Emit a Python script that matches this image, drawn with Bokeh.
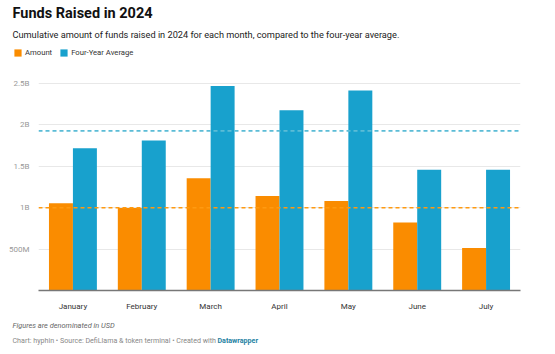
from bokeh.plotting import figure
from bokeh.layouts import column
from bokeh.models import (ColumnDataSource, FactorRange, Range1d, FixedTicker, Span,
                          Label, Legend, LegendItem)
from bokeh.transform import dodge
from bokeh.embed import file_html
from bokeh.resources import INLINE

# ---- data (billions USD) ----
months = ["January", "February", "March", "April", "May", "June", "July"]
amount = [1.054, 0.995, 1.354, 1.142, 1.082, 0.821, 0.513]
four_year_avg = [1.719, 1.811, 2.468, 2.175, 2.416, 1.458, 1.458]
series_names = ["Amount", "Four-Year Average"]
avg_lines = [1.0, 1.927]
y_ticks = [0.5, 1.0, 1.5, 2.0, 2.5]
y_tick_labels = ["500M", "1B", "1.5B", "2B", "2.5B"]

ORANGE = "#fa8c00"
BLUE = "#18a1cd"
FONT = "Roboto"
W = 555


def blank(h):
    f = figure(width=W, height=h, x_range=Range1d(0, W), y_range=Range1d(h, 0),
               output_backend="svg", toolbar_location=None, min_border=0,
               frame_align=False)
    f.axis.visible = False
    f.grid.grid_line_color = None
    f.outline_line_color = None
    return f


def lab(f, text, x, y, size, color, style="normal"):
    f.add_layout(Label(x=x, y=y, text=text, text_font=FONT, text_font_size=size,
                       text_color=color, text_font_style=style,
                       text_baseline="middle"))


# ---- header ----
head = blank(75)
lab(head, "Funds Raised in 2024", 12, 13, "14.5px", "#111111", "bold")
lab(head, "Cumulative amount of funds raised in 2024 for each month, compared to the four-year average.",
    12, 34, "9.2px", "#222222")
# legend swatches (zero-size glyphs, only used for the legend)
d1 = head.vbar(x=[0], top=[0], bottom=[0], width=0, fill_color=ORANGE, line_color=None)
d2 = head.vbar(x=[0], top=[0], bottom=[0], width=0, fill_color=BLUE, line_color=None)
legend = Legend(items=[LegendItem(label=series_names[0], renderers=[d1]),
                       LegendItem(label=series_names[1], renderers=[d2])],
                orientation="horizontal", location=(13, 18),
                glyph_width=9, glyph_height=9, label_text_font=FONT,
                label_text_font_size="7.7px", label_text_color="#333333",
                label_standoff=3, spacing=7, padding=0, margin=0,
                border_line_color=None, background_fill_alpha=0,
                label_height=9)
head.add_layout(legend, "center")

# ---- main chart ----
src = ColumnDataSource(dict(month=months, amount=amount, avg=four_year_avg))
p = figure(width=W, height=238, x_range=FactorRange(*months, range_padding=0),
           y_range=Range1d(0, 2.596), output_backend="svg", toolbar_location=None,
           min_border_left=38, min_border_right=35, min_border_top=0,
           min_border_bottom=22, frame_align=False)
p.outline_line_color = None

bw = 0.348
p.vbar(x=dodge("month", -bw / 2, range=p.x_range), top="amount", width=bw,
       source=src, fill_color=ORANGE, line_color=None)
p.vbar(x=dodge("month", bw / 2, range=p.x_range), top="avg", width=bw,
       source=src, fill_color=BLUE, line_color=None)

p.add_layout(Span(location=avg_lines[0], dimension="width",
                  line_color="#ff9a10", line_width=1.6, line_dash="4 3"))
p.add_layout(Span(location=avg_lines[1], dimension="width",
                  line_color="#5bbcd6", line_width=1.6, line_dash="4 3"))

p.xgrid.grid_line_color = None
p.ygrid.grid_line_color = "#e8e8e8"
p.ygrid.ticker = FixedTicker(ticks=y_ticks)
p.yaxis.ticker = FixedTicker(ticks=y_ticks)
p.yaxis.major_label_overrides = {t: l for t, l in zip(y_ticks, y_tick_labels)}
p.yaxis.axis_line_color = None
p.yaxis.major_tick_line_color = None
p.yaxis.minor_tick_line_color = None
p.yaxis.major_label_text_color = "#999999"
p.yaxis.major_label_text_font = FONT
p.yaxis.major_label_text_font_size = "8px"
p.yaxis.major_label_standoff = 3

p.xaxis.axis_line_color = "#777777"
p.xaxis.axis_line_width = 1.5
p.xaxis.major_tick_line_color = None
p.xaxis.minor_tick_line_color = None
p.xaxis.major_label_text_color = "#333333"
p.xaxis.major_label_text_font = FONT
p.xaxis.major_label_text_font_size = "8px"
p.xaxis.major_label_standoff = 5

# ---- footer ----
foot = blank(41)
lab(foot, "Figures are denominated in USD", 12, 12, "7.4px", "#666666", "italic")
lab(foot, "Chart: hyphin \u2022 Source: DefiLlama & token terminal \u2022 Created with",
    12, 27, "7.1px", "#888888")
lab(foot, "Datawrapper", 217, 27, "7.1px", "#1d81a2", "bold")

layout = column(head, p, foot, spacing=0)
open("out.html", "w").write(file_html(layout, INLINE))
